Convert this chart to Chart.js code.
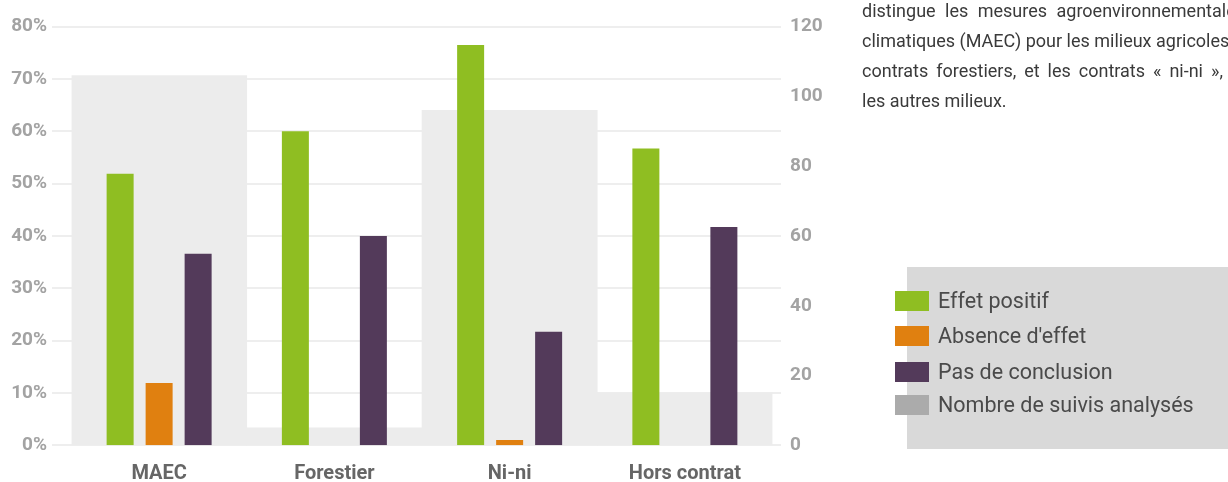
<!DOCTYPE html>
<html lang="fr">
<head>
<meta charset="utf-8">
<script src="https://cdn.jsdelivr.net/npm/chart.js@4/dist/chart.umd.min.js"></script>
<style>
  html, body { margin: 0; padding: 0; background: #ffffff; }
  #wrap { position: relative; width: 1228px; height: 482px; overflow: hidden; font-family: Roboto, "Noto Sans", sans-serif; }
  #chart { position: absolute; left: 0; top: 0; }
  #note { position: absolute; left: 862px; top: -4px; width: 366px; overflow: hidden; color: #3a3a3a; font-size: 18px; line-height: 30px; }
  #note div { white-space: nowrap; }
  #legendBox { position: absolute; left: 907px; top: 267px; width: 321px; height: 182px; background: #d9d9d9; }
  .item { position: absolute; left: 895px; height: 20px; }
  .item span.sw { position: absolute; left: 0; top: 0; width: 34px; height: 20px; }
  .item span.tx { position: absolute; left: 43px; top: -5px; white-space: nowrap; font-size: 21.5px; line-height: 30px; color: #4a4a4a; }
</style>
</head>
<body>
<div id="wrap">
  <canvas id="chart" width="1228" height="482"></canvas>
  <div id="note">
    <div style="word-spacing: 5px;">distingue les mesures agroenvironnementales et</div>
    <div>climatiques (MAEC) pour les milieux agricoles, les</div>
    <div style="word-spacing: 3.5px;">contrats forestiers, et les contrats « ni-ni », pour</div>
    <div>les autres milieux.</div>
  </div>
  <div id="legendBox"></div>
  <div id="legend"></div>
</div>
<script>
// Catégories de contrats
const categories = ['MAEC', 'Forestier', 'Ni-ni', 'Hors contrat'];

// Part des suivis (%) par type de résultat
const effetPositif     = [51.9, 60, 76.5, 56.7];
const absenceEffet     = [11.9, 0, 1.0, 0];
const pasDeConclusion  = [36.6, 40, 21.7, 41.7];

// Nombre de suivis analysés (axe de droite)
const nombreSuivis = [106, 5, 96, 15];

// Graduations
const pctTicks = [0, 10, 20, 30, 40, 50, 60, 70, 80];
const countTicks = [0, 20, 40, 60, 80, 100, 120];

const seriesNames = ['Effet positif', "Absence d'effet", 'Pas de conclusion', 'Nombre de suivis analysés'];
const seriesColors = ['#8fbe22', '#e08010', '#533a5a', '#ababab'];

const tickFont = { family: 'Roboto', size: 19, weight: 'bold' };

// Lignes de grille horizontales, prolongées au-delà de la zone des barres
const gridPlugin = {
  id: 'wideGrid',
  beforeDatasetsDraw(chart) {
    const y = chart.scales.y;
    const ctx = chart.ctx;
    ctx.save();
    ctx.strokeStyle = '#eeeeee';
    ctx.lineWidth = 2;
    pctTicks.forEach(v => {
      const py = Math.round(y.getPixelForValue(v));
      ctx.beginPath();
      ctx.moveTo(52, py);
      ctx.lineTo(781, py);
      ctx.stroke();
    });
    ctx.restore();
  }
};

// Les axes verticaux ne réservent que la demi-hauteur des libellés
function fitVertical(width) {
  return function (scale) {
    scale.width = width;
    scale.paddingTop = 10;
    scale.paddingBottom = 10;
  };
}

const barCat = 117 / 175.25;
const barPct = 27 / 39;

new Chart(document.getElementById('chart'), {
  type: 'bar',
  data: {
    labels: categories,
    datasets: [
      { label: seriesNames[0], data: effetPositif, backgroundColor: seriesColors[0], yAxisID: 'y', order: 1,
        categoryPercentage: barCat, barPercentage: barPct },
      { label: seriesNames[1], data: absenceEffet, backgroundColor: seriesColors[1], yAxisID: 'y', order: 1,
        categoryPercentage: barCat, barPercentage: barPct },
      { label: seriesNames[2], data: pasDeConclusion, backgroundColor: seriesColors[2], yAxisID: 'y', order: 1,
        categoryPercentage: barCat, barPercentage: barPct },
      { label: seriesNames[3], data: nombreSuivis, backgroundColor: '#ececec', yAxisID: 'y2', order: 2,
        grouped: false, categoryPercentage: 1, barPercentage: 1 }
    ]
  },
  options: {
    responsive: false,
    animation: false,
    devicePixelRatio: 1,
    layout: { padding: { top: 26.7, right: 395.5, bottom: 0, left: 0 } },
    plugins: { legend: { display: false }, tooltip: { enabled: false } },
    scales: {
      x: {
        grid: { display: false, drawTicks: false },
        border: { display: false },
        ticks: { color: '#666666', font: { family: 'Roboto', size: 20, weight: 'bold' }, padding: 17 },
        afterFit(scale) { scale.height = 36.7; }
      },
      y: {
        position: 'left',
        min: 0, max: 80,
        afterBuildTicks(scale) { scale.ticks = pctTicks.map(v => ({ value: v })); },
        grid: { display: false, drawTicks: false },
        border: { display: false },
        ticks: { color: '#a3a3a3', font: tickFont, padding: 24.5, callback: v => v + '%' },
        afterFit: fitVertical(71.5)
      },
      y2: {
        position: 'right',
        min: 0, max: 120,
        afterBuildTicks(scale) { scale.ticks = countTicks.map(v => ({ value: v })); },
        grid: { display: false, drawTicks: false },
        border: { display: false },
        ticks: { color: '#a3a3a3', font: tickFont, padding: 17.5 },
        afterFit: fitVertical(60)
      }
    }
  },
  plugins: [gridPlugin]
});

// Légende
const legendTops = [291, 326, 362, 395];
const legend = document.getElementById('legend');
seriesNames.forEach((name, i) => {
  const it = document.createElement('div');
  it.className = 'item';
  it.style.top = legendTops[i] + 'px';
  it.innerHTML = '<span class="sw" style="background:' + seriesColors[i] + '"></span><span class="tx"></span>';
  it.querySelector('.tx').textContent = name;
  legend.appendChild(it);
});
</script>
</body>
</html>
